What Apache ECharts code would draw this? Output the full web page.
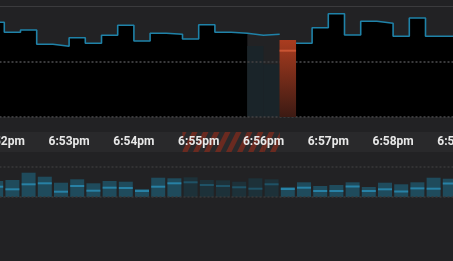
<!DOCTYPE html>
<html><head><meta charset="utf-8">
<script src="https://cdn.jsdelivr.net/npm/echarts@6/dist/echarts.min.js"></script>
<style>html,body{margin:0;padding:0;background:#222224;}#c{width:453px;height:261px;}</style>
</head><body><div id="c"></div>
<script>
// 15-second buckets; bucket index 0 starts at 6:52pm
const buckets = [-1,0,1,2,3,4,5,6,7,8,9,10,11,12,13,14,15,16,17,18,19,20,21,22,23,24,25,26,27];
const tickLabels = ['6:51pm','6:52pm','6:53pm','6:54pm','6:55pm','6:56pm','6:57pm','6:58pm','6:59pm','7:00pm'];
// main stepped series (0-100 scale); null = hidden under the selected bar
const lineValues = [86.1,77.0,79.1,66.1,64.3,72.1,67.0,74.3,83.4,69.1,76.1,75.2,70.9,83.9,77.0,76.1,74.3,75.2,null,67.0,81.2,93.9,74.5,87.0,85.2,73.4,90.0,73.4,73.4];
// hovered / selected buckets
const highlightBuckets = [15,16];
const highlightValues = [64.5,47.9];
const selectedBucket = 17;
const selectedValue = 70;
const selectedMarker = 60.3;
const rangeBuckets = [11,12,13,14,15,16];
// overview bars
const miniBars = [16,17,24.3,20.3,14.3,17.7,13.7,16,15.3,8,19.3,18.7,19.7,17,16.7,15.3,18.7,17.7,10,14.7,11,12,14.7,10,14.3,12.7,14.7,19.3,18.3];
const miniLines = [10.3,7.7,12.7,13.7,5.3,11,6.3,9.3,9,6,10.3,13.7,14.7,12,11,9.7,8.3,12.7,8,9.3,6,6,10.5,6,7.7,5.5,8.6,8.3,13.5];

const linePts = [], areaPts = [];
const noArea = highlightBuckets.concat([selectedBucket]);
buckets.forEach((b,i)=>{
  const v = lineValues[i];
  if (v === null) { linePts.push([b+0.5,'-']); }
  else { linePts.push([b,v],[b+1,v]); }
  if (v === null || noArea.indexOf(b) >= 0) { areaPts.push([b+0.5,'-']); }
  else { areaPts.push([b,v],[b+1,v]); }
});

// hatch pattern
const pc = document.createElement('canvas');
pc.width = 11; pc.height = 22;
const g = pc.getContext('2d');
g.fillStyle = '#29292b'; g.fillRect(0,0,11,22);
g.fillStyle = '#6a2a20';
[-11,0,11].forEach(o=>{
  g.beginPath();
  g.moveTo(o+5,0); g.lineTo(o+10.5,0); g.lineTo(o-0.5,22); g.lineTo(o-6,22); g.closePath(); g.fill();
});

const L = -60.5, R = 453 - (4.3 + 16.2*32);
const gridBase = {left:L, right:R, outerBoundsMode:'none', containLabel:false};
const xBase = {type:'value', min:-4, max:32, interval:4, axisTick:{show:false}, splitLine:{show:false}};
const chart = echarts.init(document.getElementById('c'), null, {renderer:'canvas'});
chart.setOption({
  animation:false,
  backgroundColor:'#222224',
  grid:[
    Object.assign({}, gridBase, {top:7, height:110}),
    Object.assign({}, gridBase, {top:132, height:20, show:true, backgroundColor:'#29292b', borderWidth:0}),
    Object.assign({}, gridBase, {top:167, height:30})
  ],
  xAxis:[
    Object.assign({}, xBase, {gridIndex:0, position:'top', offset:1, axisLine:{show:true, onZero:false, lineStyle:{color:'#3b3b3d', width:1}}, axisLabel:{show:false}}),
    Object.assign({}, xBase, {gridIndex:1, position:'bottom', z:10, axisLine:{show:false},
      axisLabel:{show:true, color:'#e8e8e8', fontFamily:'Roboto', fontWeight:'bold', fontSize:12, margin:-10, verticalAlign:'middle',
        formatter:(v)=>tickLabels[(v+4)/4]}}),
    Object.assign({}, xBase, {gridIndex:2, axisLine:{show:false}, axisLabel:{show:false}})
  ],
  yAxis:[
    {gridIndex:0, type:'value', min:0, max:100, interval:50, z:3, axisLine:{show:false}, axisTick:{show:false}, axisLabel:{show:false},
      splitLine:{show:true, lineStyle:{color:['#3a3a3c','#3a3a3c','rgba(0,0,0,0)'], type:[2,2], width:2}}},
    {gridIndex:1, type:'value', min:0, max:1, show:false},
    {gridIndex:2, type:'value', min:0, max:30, interval:30, z:3, axisLine:{show:false}, axisTick:{show:false}, axisLabel:{show:false},
      splitLine:{show:true, lineStyle:{color:'#38383a', type:[2,2], width:1.5}}}
  ],
  series:[
    {type:'line', xAxisIndex:0, yAxisIndex:0, data:areaPts, symbol:'none', connectNulls:false, lineStyle:{width:0}, areaStyle:{color:'#000000', opacity:1}, z:1},
    {type:'bar', xAxisIndex:0, yAxisIndex:0, barWidth:16.3, barGap:'-100%', z:2,
      data:highlightBuckets.map((b,i)=>[b+0.5, highlightValues[i]]), itemStyle:{color:'#1a2429'}},
    {type:'line', xAxisIndex:0, yAxisIndex:0, data:linePts, symbol:'none', connectNulls:false, z:4,
      lineStyle:{color:'#1f82a8', width:1.6}},
    {type:'bar', xAxisIndex:0, yAxisIndex:0, barWidth:16.5, barGap:'-100%', z:5,
      data:[[selectedBucket+0.5, selectedValue]],
      itemStyle:{color:{type:'linear',x:0,y:0,x2:0,y2:1,colorStops:[{offset:0,color:'#aa3c1f'},{offset:1,color:'#3c1a13'}]}}},
    {type:'scatter', xAxisIndex:0, yAxisIndex:0, symbol:'rect', symbolSize:[16.5,2], z:6,
      data:[[selectedBucket+0.5, selectedMarker]], itemStyle:{color:'#d65c3a'}},
    {type:'bar', xAxisIndex:1, yAxisIndex:1, barWidth:16.4, z:2,
      data:rangeBuckets.map(b=>[b+0.5,1]), itemStyle:{color:{image:pc, repeat:'repeat'}}},
    {type:'bar', xAxisIndex:2, yAxisIndex:2, barWidth:14, z:2,
      data:buckets.map((b,i)=>({value:[b+0.5, miniBars[i]], itemStyle:{color: rangeBuckets.indexOf(b)>=0 ? '#1d3139' : '#1f4b5c'}}))},
    {type:'scatter', xAxisIndex:2, yAxisIndex:2, symbol:'rect', symbolSize:[14,2], z:4,
      data:buckets.map((b,i)=>({value:[b+0.5, miniLines[i]], itemStyle:{color: rangeBuckets.indexOf(b)>=0 ? '#215b72' : '#2a8fb8'}}))}
  ]
});
</script></body></html>
